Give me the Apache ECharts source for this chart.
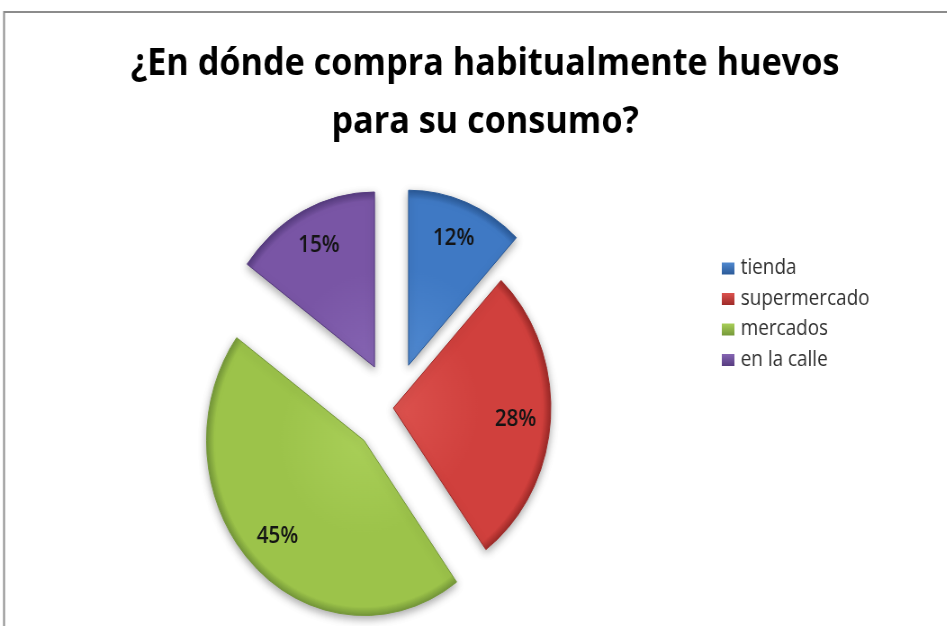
<!DOCTYPE html>
<html>
<head>
<meta charset="utf-8">
<script src="https://cdn.jsdelivr.net/npm/echarts@6/dist/echarts.min.js"></script>
<style>
  html, body { margin: 0; padding: 0; background: #ffffff; overflow: hidden; }
  /* the pie is drawn slightly narrower than it is tall */
  #chart { width: 1052px; height: 626px; transform: scaleX(0.9); transform-origin: 0 0; }
</style>
</head>
<body>
<div id="chart"></div>
<script>
// Survey: where eggs are usually bought
const titleText = '¿En dónde compra habitualmente huevos\npara su consumo?';
const categories = ['tienda', 'supermercado', 'mercados', 'en la calle'];
const shares = [12, 28, 45, 15];
const exploded = [true, false, true, true];

const baseColors = ['#3f79c4', '#d0403d', '#9cc34a', '#7955a5'];
const lightColors = ['#5089d0', '#dc524e', '#a9cf58', '#8665b3'];
const rimColors = ['#2b5a98', '#9e2a28', '#76993a', '#573c80'];

const CX = 437, CY = 408, R = 175, OFFSET = 46;
const FONT = "'Open Sans', 'Noto Sans', sans-serif";

// bevel-like shading: flat face with a darker rim along the arc
function sliceFill(i) {
  return new echarts.graphic.RadialGradient(CX, CY, R, [
    { offset: 0, color: lightColors[i] },
    { offset: 0.55, color: baseColors[i] },
    { offset: 0.95, color: baseColors[i] },
    { offset: 1, color: rimColors[i] }
  ], true);
}

function legendFill(i) {
  return new echarts.graphic.LinearGradient(0, 0, 0, 1, [
    { offset: 0, color: lightColors[i] },
    { offset: 1, color: rimColors[i] }
  ]);
}

// the supermercado label sits a little below its mid-angle
const labelNudge = { 'supermercado': [0, 3] };

const chart = echarts.init(document.getElementById('chart'), null, { renderer: 'canvas' });

chart.setOption({
  backgroundColor: '#ffffff',
  animation: false,
  title: {
    text: titleText,
    left: 539,
    top: 35,
    textAlign: 'center',
    padding: 0,
    textStyle: {
      fontFamily: FONT,
      fontSize: 38,
      fontWeight: 'bold',
      color: '#000000',
      lineHeight: 58
    }
  },
  legend: {
    orient: 'vertical',
    left: 797,
    top: 253,
    icon: 'rect',
    itemWidth: 14,
    itemHeight: 12,
    itemGap: 9.5,
    selectedMode: false,
    textStyle: {
      fontFamily: FONT,
      fontSize: 21,
      color: '#303030',
      lineHeight: 20,
      padding: [0, 0, 0, 2]
    },
    data: categories.map((name, i) => ({
      name,
      itemStyle: { color: legendFill(i), borderWidth: 0 }
    }))
  },
  graphic: [{
    type: 'rect',
    silent: true,
    z: -10,
    shape: { x: 4.5, y: 12, width: 1400, height: 900 },
    style: { fill: 'none', stroke: '#8c8c8c', lineWidth: 2 }
  }],
  series: [
    {
      name: 'slices',
      type: 'pie',
      center: [CX, CY],
      radius: [0, R],
      startAngle: 90,
      clockwise: true,
      selectedMode: 'multiple',
      selectedOffset: OFFSET,
      silent: true,
      label: { show: false },
      labelLine: { show: false },
      emphasis: { disabled: true },
      data: categories.map((name, i) => ({
        name,
        value: shares[i],
        selected: exploded[i],
        itemStyle: {
          color: sliceFill(i),
          borderColor: rimColors[i],
          borderWidth: 1,
          shadowBlur: 8,
          shadowOffsetY: 3,
          shadowColor: 'rgba(0,0,0,0.35)'
        }
      }))
    },
    {
      name: 'labels',
      type: 'pie',
      center: [CX, CY],
      radius: [Math.round(R * 0.52), R],
      startAngle: 90,
      clockwise: true,
      selectedMode: 'multiple',
      selectedOffset: OFFSET,
      silent: true,
      z: 3,
      itemStyle: { color: 'rgba(0,0,0,0)', borderWidth: 0 },
      emphasis: { disabled: true },
      labelLine: { show: false },
      label: {
        show: true,
        position: 'inside',
        formatter: (p) => p.value + '%',
        fontFamily: FONT,
        fontSize: 23,
        fontWeight: 600,
        color: '#141414'
      },
      data: categories.map((name, i) => ({
        name,
        value: shares[i],
        selected: exploded[i],
        label: labelNudge[name] ? { offset: labelNudge[name] } : undefined
      }))
    }
  ]
});
</script>
</body>
</html>
